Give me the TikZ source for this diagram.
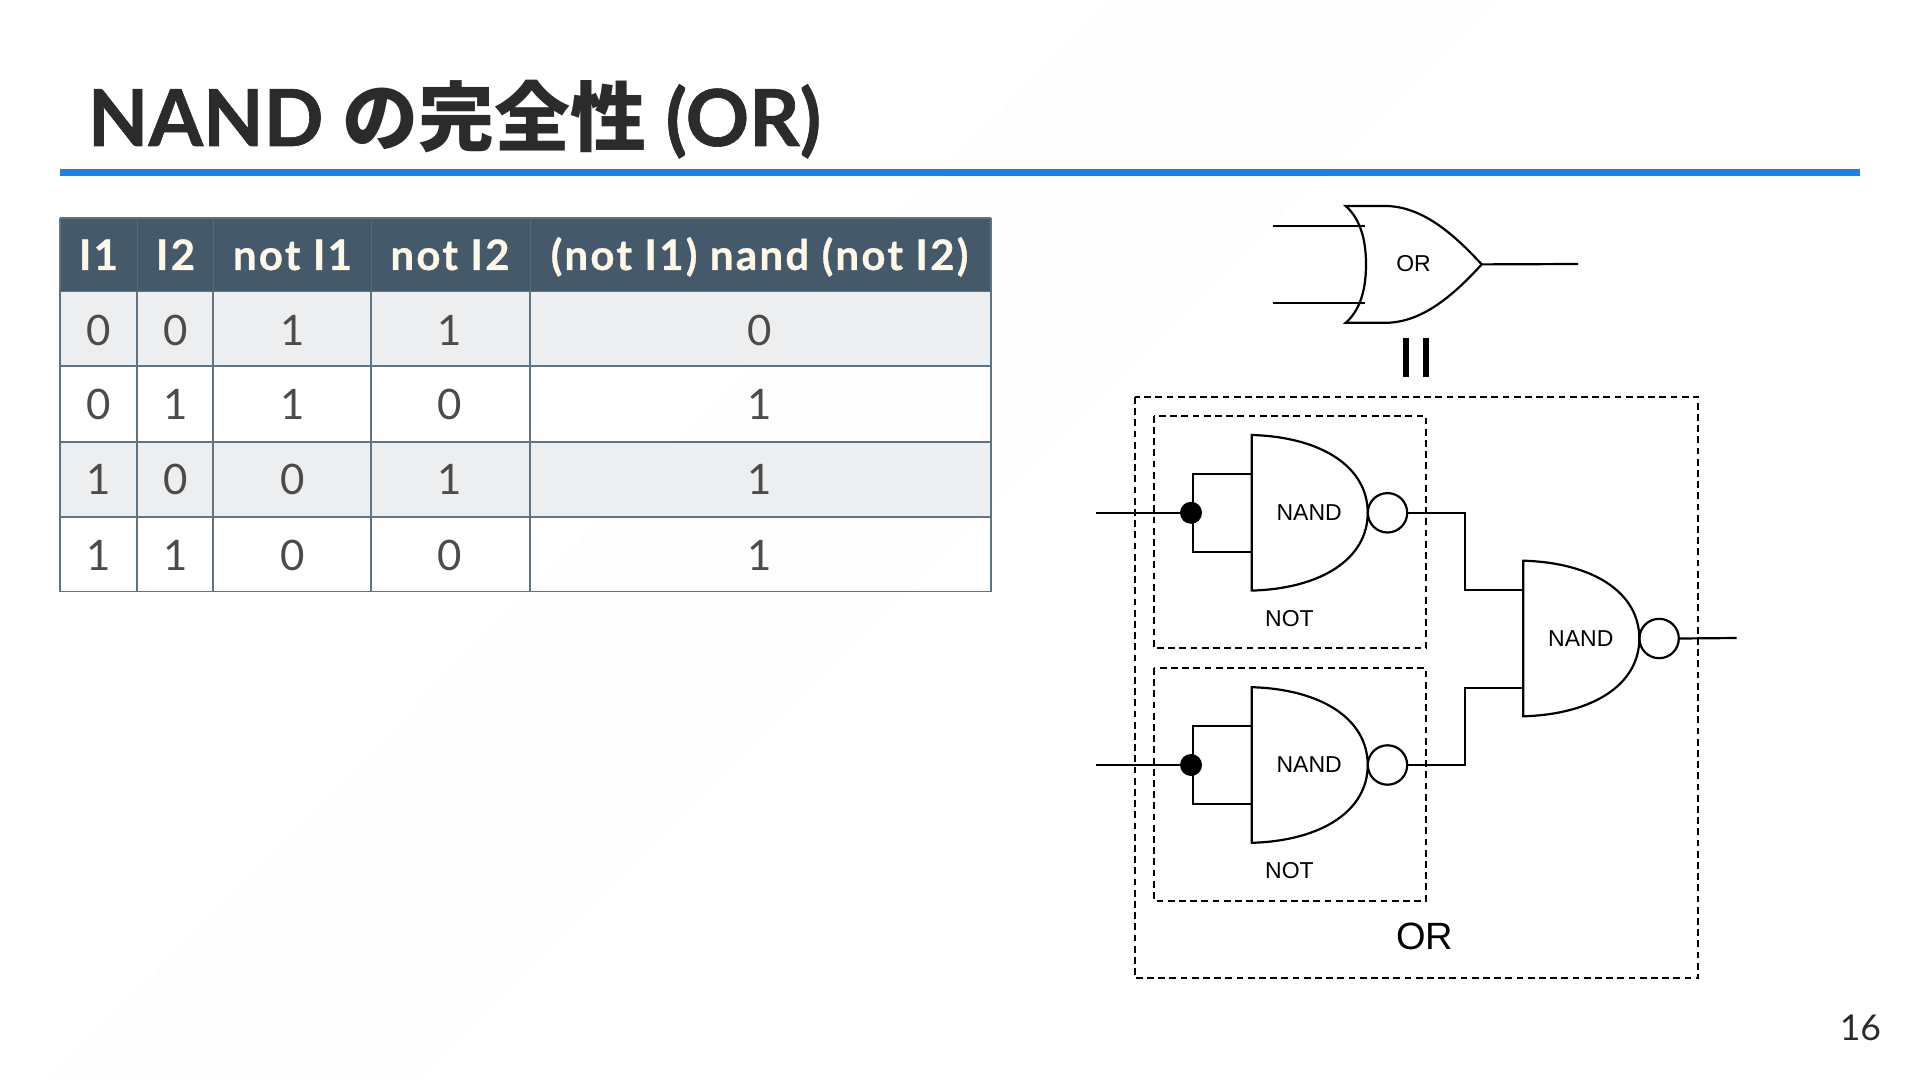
\documentclass[tikz,border=0pt]{standalone}
\usepackage{fontspec}
\setmainfont{Lato}
\newfontfamily\heavy{Lato}[UprightFont=*-Bold,UprightFeatures={FakeBold=0.8}]
\newfontfamily\heavysp{Lato}[UprightFont=*-Bold,UprightFeatures={FakeBold=0.8,LetterSpace=5.4}]
\newfontfamily\cjk{Noto Sans CJK JP}
\newfontfamily\arial{Liberation Sans}
\definecolor{hdr}{HTML}{44596A}
\definecolor{cream}{HTML}{FFF8E7}
\definecolor{rowa}{HTML}{ECEEF0}
\definecolor{grid}{HTML}{5F7381}
\definecolor{ink}{HTML}{2B2B2B}
\definecolor{rule}{HTML}{1A7FE8}
\definecolor{band}{HTML}{FDFDFD}
\tikzset{
  wire/.style={line width=1.1pt,black,line join=miter},
  dashbox/.style={line width=1pt,black,dash pattern=on 3.4pt off 2.2pt},
  gatelabel/.style={font=\arial\fontsize{11.5}{14}\selectfont,inner sep=0pt},
  hcell/.style={font=\heavysp\fontsize{21}{25}\selectfont,text=cream,inner sep=0pt,anchor=base},
  dcell/.style={font=\fontsize{21}{25}\selectfont,text=ink!85,inner sep=0pt,anchor=base},
  gridline/.style={draw=grid,line width=0.55pt},
}
% name, left x, centre y, half height
\newcommand{\nandgate}[4]{%
  \coordinate (#1-apex) at (#2+116,#3);
  \draw[wire] (#2,#3-#4) .. controls (#2+70,#3-#4+2) and (#2+116,#3-#4+32) .. (#1-apex)
     .. controls (#2+116,#3+#4-32) and (#2+70,#3+#4-2) .. (#2,#3+#4) -- cycle;
  \node[wire,draw,circle,minimum size=19.7pt,inner sep=0pt,anchor=west,xshift=-0.5pt] (#1-b) at (#1-apex) {};
  \node[gatelabel] (#1-t) at (#2+57.5,#3) {NAND};
}
\begin{document}
\begin{tikzpicture}[x=0.5pt,y=-0.5pt]
\useasboundingbox (0,0) rectangle (1920,1080);
\fill[white] (0,0) rectangle (1920,1080);
\fill[band] (1110,0) -- (1495,0) -- (420,1080) -- (50,1080) -- cycle;
% title
\node[anchor=base west,inner sep=0pt,text=ink,font=\heavy\fontsize{39.3}{44}\selectfont] (title) at (87.5,146) {NAND {\cjk\bfseries\fontsize{38}{44}\selectfont の完全性} (OR)};
\fill[rule] (60,169) rectangle (1860,176);
\node[anchor=base east,inner sep=0pt,text=ink,font=\fontsize{17.8}{21}\selectfont] (page) at (1881.5,1040) {16};
% table
\fill[hdr] (60,218) rectangle (991,291.5);
\fill[rowa] (60,291.5) rectangle (991,366);
\fill[rowa] (60,442) rectangle (991,517);
\foreach \y in {291.5,366,442,517,591.5} \draw[gridline] (60,\y) -- (991,\y);
\foreach \x in {60,137,213,371,530,991} \draw[gridline] (\x,291.5) -- (\x,591.5);
\foreach \x in {60,991} \draw[gridline] (\x,218) -- (\x,291.5);
\draw[gridline] (60,218) -- (991,218);
\foreach \x in {137,213,371,530} \draw[draw=hdr!90!white,line width=0.5pt] (\x,218) -- (\x,291.5);
\node[hcell] (h1) at (98.5,270) {I1};
\node[hcell] (h2) at (175.5,270) {I2};
\node[hcell] (h3) at (292.5,270) {not I1};
\node[hcell] (h4) at (450,270) {not I2};
\node[hcell] (h5) at (759.5,270) {(not I1) nand (not I2)};
\foreach \yy/\a/\b/\c/\d/\e/\n in {345/0/0/1/1/0/1,419.5/0/1/1/0/1/2,494.5/1/0/0/1/1/3,570/1/1/0/0/1/4}{
  \node[dcell] (c\n a) at (98.5,\yy) {\a};
  \node[dcell] (c\n b) at (176,\yy) {\b};
  \node[dcell] (c\n c) at (293,\yy) {\c};
  \node[dcell] (c\n d) at (450,\yy) {\d};
  \node[dcell] (c\n e) at (760,\yy) {\e};
}
% OR gate
\coordinate (org) at (1345.7,206);
\coordinate (ortip) at (1481.7,264.4);
\coordinate (ori1s) at (1273,225.7);
\coordinate (ori1e) at (1365,225.7);
\coordinate (ori2s) at (1273,303.3);
\coordinate (ori2e) at (1365,303.3);
\coordinate (orout) at (1578,264);
\draw[wire] (1345.7,206) -- (1386.7,206) .. controls (1421,207) and (1451,231) .. (ortip)
   .. controls (1451,298) and (1421,322) .. (1386.7,322.8) -- (1345.7,322.8)
   .. controls (1358,312) and (1366,294) .. (1366,264.4)
   .. controls (1366,235) and (1358,217) .. (org) -- cycle;
\draw[wire] (ori1s) -- (ori1e);
\draw[wire] (ori2s) -- (ori2e);
\draw[wire] (ortip) -- (orout);
\node[gatelabel] (ort) at (1413.5,263.5) {OR};
% equals sign
\fill[black] (1403,338) rectangle (1409,377);
\fill[black] (1423,338) rectangle (1429,377);
% dashed boxes
\draw[dashbox] (1134.7,397) rectangle (1698.3,978.3);
\draw[dashbox] (1154,415.7) rectangle (1426,648);
\draw[dashbox] (1154,668) rectangle (1426,900.7);
% gates
\nandgate{g1}{1251.7}{512.8}{77.8}
\nandgate{g2}{1251.7}{765}{77.8}
\nandgate{g3}{1523.3}{638.5}{77.8}
\coordinate (g1-in1) at (1251.7,474);
\coordinate (g1-in2) at (1251.7,551.7);
\coordinate (g2-in1) at (1251.7,726.3);
\coordinate (g2-in2) at (1251.7,803.7);
\coordinate (g3-in1) at (1523.3,590.3);
\coordinate (g3-in2) at (1523.3,687.7);
\node[gatelabel] (n1) at (1289.5,618.5) {NOT};
\node[gatelabel] (n2) at (1289.5,871) {NOT};
\node[inner sep=0pt,font=\arial\fontsize{19}{23}\selectfont] (orl) at (1424.5,936.5) {OR};
% input circuits
\coordinate (i1) at (1096,512.8);
\coordinate (i2) at (1096,765);
\node[circle,fill=black,minimum size=11pt,inner sep=0pt] (d1) at (1191,512.8) {};
\node[circle,fill=black,minimum size=11pt,inner sep=0pt] (d2) at (1191,765) {};
\draw[wire] (i1) -- (d1);
\draw[wire] (i2) -- (d2);
\draw[wire] (g1-in1) -| (1193,512.8) |- (g1-in2);
\draw[wire] (g2-in1) -| (1193,765) |- (g2-in2);
% outputs
\coordinate (out) at (1736.7,638);
\draw[wire] (g1-b.east) -- (1465,512.8) |- (g3-in1);
\draw[wire] (g2-b.east) -- (1465,765) |- (g3-in2);
\draw[wire] (g3-b.east) -- (out);
\end{tikzpicture}
\end{document}
